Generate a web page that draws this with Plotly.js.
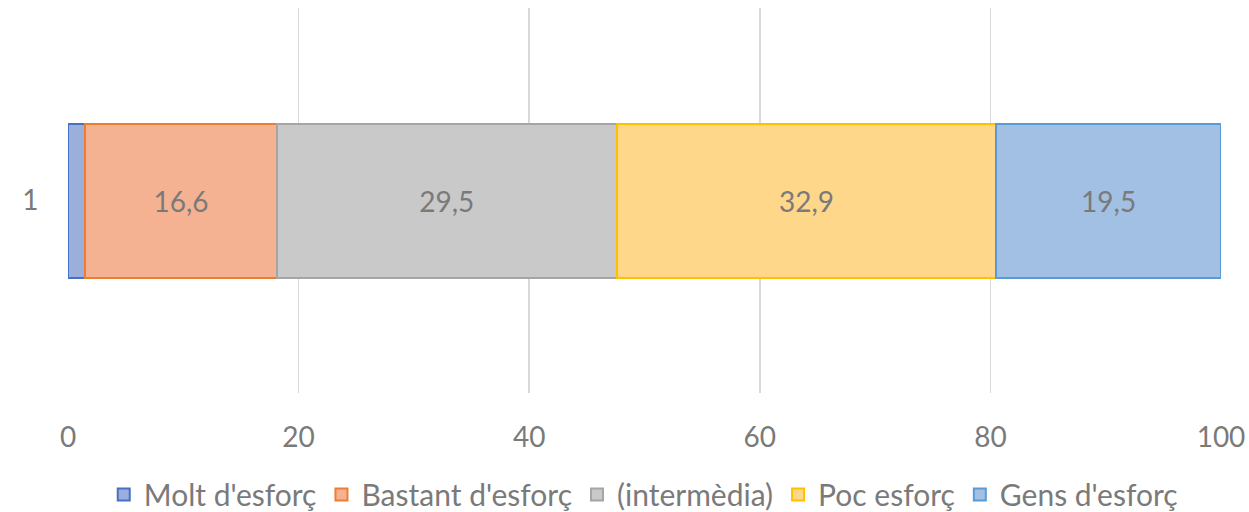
<!DOCTYPE html>
<html>
<head>
<meta charset="utf-8">
<script src="https://cdn.plot.ly/plotly-3.0.1.min.js"></script>
<style>html,body{margin:0;padding:0;background:#fff;}#chart{width:1249px;height:512px;}</style>
</head>
<body>
<div id="chart"></div>
<script>
const categories = ['1'];
const seriesNames = ["Molt d'esforç", "Bastant d'esforç", "(intermèdia)", "Poc esforç", "Gens d'esforç"];
const molt = [1.5];
const bastant = [16.6];
const intermedia = [29.5];
const poc = [32.9];
const gens = [19.5];
const xTicks = [0, 20, 40, 60, 80, 100];

const fills = ['#9cafdc', '#f5b292', '#c9c9c9', '#fed78a', '#a2c0e4'];
const borders = ['#4472c4', '#ed7d31', '#a5a5a5', '#ffc000', '#5b9bd5'];
const values = [molt, bastant, intermedia, poc, gens];
const showLabel = [false, true, true, true, true];

const font = 'Lato, "Open Sans", sans-serif';
const grey = '#7a7a7a';
const fsize = 28;

const traces = values.map((v, i) => ({
  type: 'bar',
  orientation: 'h',
  name: seriesNames[i],
  x: v,
  y: categories,
  marker: {color: fills[i], line: {color: borders[i], width: 2}},
  texttemplate: showLabel[i] ? '%{x:.1f}' : '',
  textposition: 'inside',
  insidetextanchor: 'middle',
  textfont: {family: font, size: fsize, color: grey},
  constraintext: 'none',
  hoverinfo: 'skip'
}));

const layout = {
  barmode: 'stack',
  bargap: 0.6,
  separators: ',.',
  width: 1249,
  height: 512,
  margin: {l: 68, r: 28, t: 8, b: 119, autoexpand: false},
  paper_bgcolor: '#fff',
  plot_bgcolor: '#fff',
  font: {family: font, color: grey, size: fsize},
  xaxis: {
    range: [0, 100],
    tickvals: xTicks,
    ticktext: xTicks.map(String),
    showgrid: true,
    gridcolor: '#d9d9d9',
    gridwidth: 1.5,
    zeroline: false,
    showline: false,
    ticks: 'outside',
    ticklen: 19,
    tickcolor: 'rgba(0,0,0,0)',
    tickfont: {family: font, size: fsize, color: grey},
    automargin: false,
    fixedrange: true
  },
  yaxis: {
    type: 'category',
    showgrid: false,
    zeroline: false,
    showline: false,
    ticks: 'outside',
    ticklen: 23,
    tickcolor: 'rgba(0,0,0,0)',
    tickfont: {family: font, size: fsize, color: grey},
    automargin: false,
    fixedrange: true
  },
  showlegend: true,
  legend: {
    orientation: 'h',
    x: 0.515,
    xanchor: 'center',
    xref: 'container',
    y: 0.034,
    yanchor: 'middle',
    yref: 'container',
    font: {family: font, size: 30, color: grey},
    itemwidth: 30,
    tracegroupgap: 0,
    traceorder: 'normal'
  }
};

Plotly.newPlot('chart', traces, layout, {displayModeBar: false, staticPlot: true});
</script>
</body>
</html>
